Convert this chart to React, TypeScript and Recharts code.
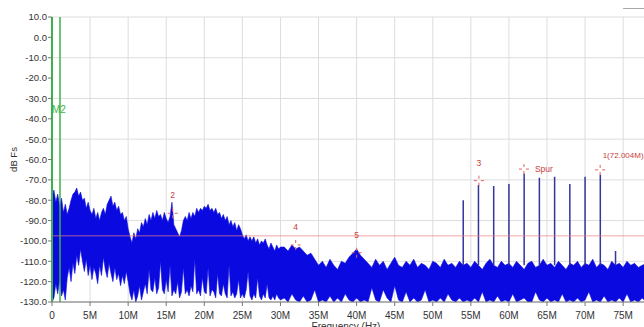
import { ComposedChart, Area, Line, XAxis, YAxis, CartesianGrid, ReferenceLine, ReferenceDot, Label } from 'recharts';

// noise floor envelope, 0 - 30 MHz every 0.25 MHz (dBFS)
const lowTop = [
  -79, -75, -81, -77, -83,
  -79, -86, -82, -87, -84, -80, -77, -76, -74, -78, -76, -80,
  -79, -84, -81, -85, -87, -84, -89, -86, -90, -86, -84, -87,
  -82, -80, -78, -83, -81, -85, -83, -87, -86, -90, -88, -94,
  -98, -101, -96, -99, -94, -96, -91, -93, -89, -92, -87, -90,
  -86, -89, -85, -88, -87, -90, -86, -89, -91, -88, -81, -92,
  -94, -96, -98, -95, -90, -88, -90, -86, -89, -86, -88, -84,
  -86, -84, -85, -83, -84, -82, -85, -84, -86, -84, -87, -86,
  -89, -87, -90, -88, -92, -90, -93, -91, -95, -92, -94, -97,
  -99, -97, -100, -98, -100, -98, -101, -99, -102, -100, -101, -99,
  -102, -104, -101, -103, -105, -102, -104, -103,
];
const lowBottom = [
  -130, -128, -121, -126, -119,
  -127, -124, -129, -118, -113, -120, -111, -116, -107, -112, -104, -110,
  -115, -109, -117, -112, -119, -113, -116, -121, -112, -117, -108, -114,
  -118, -111, -116, -120, -113, -119, -116, -122, -117, -121, -115, -120,
  -126, -129, -124, -130, -127, -122, -129, -125, -121, -126, -114, -124,
  -125, -118, -126, -123, -110, -124, -126, -119, -125, -112, -127, -124,
  -126, -120, -128, -125, -113, -126, -124, -127, -122, -125, -109, -126,
  -124, -127, -118, -125, -126, -113, -127, -124, -125, -128, -116, -126,
  -127, -121, -126, -128, -112, -127, -125, -128, -126, -119, -128, -126,
  -128, -124, -115, -127, -129, -126, -128, -118, -127, -129, -126, -128,
  -121, -128, -129, -127, -129, -126, -128, -129,
];
// noise floor envelope, 30.5 - 78 MHz every 0.5 MHz (dBFS)
const highTop = [
  -103, -105, -102, -104, -103, -105, -107, -106, -109, -112,
  -110, -113, -109, -112, -114, -110, -111, -108, -106, -104, -107, -109,
  -111, -113, -109, -112, -110, -114, -111, -108, -112, -113, -110, -112, -109,
  -113, -111, -112, -114, -110, -111, -113, -109, -112, -111, -113, -110, -112,
  -111, -113, -110, -112, -114, -111, -109, -112, -113, -110, -112, -111,
  -113, -110, -112, -114, -111, -110, -113, -112, -109, -112, -111, -113,
  -110, -112, -114, -111, -112, -110, -113, -111, -112, -109, -113, -111,
  -112, -114, -110, -112, -111, -113, -110, -112, -111, -113, -112, -111,
];
const highBottom = [
  -128, -130, -126, -129, -130, -127, -130, -129, -124, -130,
  -129, -130, -127, -130, -128, -130, -126, -129, -130, -128, -130, -129,
  -130, -123, -129, -130, -124, -128, -130, -122, -129, -130, -125, -130, -128,
  -130, -129, -124, -130, -129, -130, -128, -130, -126, -129, -130, -128, -130,
  -129, -130, -128, -130, -125, -130, -129, -130, -127, -130, -129, -130,
  -126, -130, -129, -128, -130, -130, -125, -129, -130, -128, -130, -129,
  -130, -126, -130, -129, -130, -128, -130, -129, -125, -130, -129, -130,
  -127, -130, -129, -130, -128, -130, -126, -130, -129, -130, -128, -130,
];

// spurs / harmonics (MHz, dBFS)
const spurFreqs = [54, 56, 58, 60, 62, 64, 66, 68, 70, 72, 74];
const spurPeaks = [-80, -72.5, -73, -72, -67, -69, -68.5, -72, -68.5, -67.5, -105];
const spurBase = -112;

// markers
const markerNames = ['2', '4', '5', '3', 'Spur', '1(72.004M)'];
const markerFreqs = [15.85, 32.0, 40.0, 56.06, 61.97, 71.98];
const markerDb = [-86.4, -102, -105.8, -70.4, -64.7, -65.1];

const m2Freq = 1.05;
const thresholdDb = -97.5;

const xTicks = [0, 5, 10, 15, 20, 25, 30, 35, 40, 45, 50, 55, 60, 65, 70, 75];
const yTicks = [10, 0, -10, -20, -30, -40, -50, -60, -70, -80, -90, -100, -110, -120, -130];

const noise = [
  ...lowTop.map((hi, i) => ({ f: i * 0.25, band: [lowBottom[i], hi] })),
  ...highTop.map((hi, i) => ({ f: 30.5 + i * 0.5, band: [highBottom[i], hi] })),
];

const spurs: { f: number; v: number | null }[] = [];
spurFreqs.forEach((f, i) => {
  spurs.push({ f, v: spurBase }, { f, v: spurPeaks[i] }, { f, v: null });
});

const FONT = '"Liberation Sans", Arial, sans-serif';
const RED = '#c84040';

function markerShape(name: string) {
  return (props: any) => {
    const { cx, cy } = props;
    const c = '#e06060';
    let label;
    if (name === 'Spur') {
      label = <text x={cx + 11} y={cy + 3} fill={RED} fontSize={8.5}>{name}</text>;
    } else if (name.startsWith('1(')) {
      label = <text x={cx + 2.5} y={cy - 12} fill={RED} fontSize={8}>{name}</text>;
    } else {
      label = <text x={cx} y={cy - 15} fill={RED} fontSize={8.5} textAnchor="middle">{name}</text>;
    }
    return (
      <g fontFamily={FONT}>
        <line x1={cx - 5} y1={cy} x2={cx - 2} y2={cy} stroke={c} />
        <line x1={cx + 2} y1={cy} x2={cx + 5} y2={cy} stroke={c} />
        <line x1={cx} y1={cy - 5} x2={cx} y2={cy - 2} stroke={c} />
        <line x1={cx} y1={cy + 2} x2={cx} y2={cy + 5} stroke={c} />
        {label}
      </g>
    );
  };
}

export default function App() {
  return (
    <div style={{ position: 'fixed', top: 8, left: 8, width: 636, height: 319, overflow: 'hidden', background: '#fff' }}>
      <div style={{ position: 'absolute', top: 0, left: 615, width: 30, borderTop: '1px solid #aaa' }} />
      <ComposedChart width={640} height={340} data={noise} margin={{ top: 9, right: 2, bottom: 16, left: 0 }}>
        <CartesianGrid stroke="#dddddd" />
        <XAxis
          dataKey="f"
          type="number"
          domain={[0, 78]}
          ticks={xTicks}
          allowDataOverflow
          tickFormatter={(v: number) => (v === 0 ? '0' : `${v}M`)}
          height={30}
          tickSize={4}
          tickMargin={6}
          stroke="#777"
          tick={{ fontSize: 10, fill: '#333', fontFamily: FONT }}
        >
          <Label
            content={() => (
              <text x={338} y={322} textAnchor="middle" fontSize={10} fill="#333" fontFamily={FONT}>
                Frequency (Hz)
              </text>
            )}
          />
        </XAxis>
        <YAxis
          type="number"
          domain={[-130, 10]}
          ticks={yTicks}
          allowDataOverflow
          axisLine={false}
          tickLine={{ stroke: '#777' }}
          tickFormatter={(v: number) => v.toFixed(1)}
          width={44}
          tickSize={4}
          tickMargin={1}
          tick={{ fontSize: 9.5, fill: '#333', fontFamily: FONT }}
        >
          <Label
            content={() => (
              <text x={5.5} y={151.5} transform="rotate(-90 5.5 151.5)" textAnchor="middle" dominantBaseline="central" fontSize={9.5} fill="#333" fontFamily={FONT}>
                dB Fs
              </text>
            )}
          />
        </YAxis>
        <Area
          dataKey="band"
          type="linear"
          stroke="#0a0ae0"
          strokeWidth={0.6}
          fill="#0a0ae0"
          fillOpacity={1}
          isAnimationActive={false}
          dot={false}
          activeDot={false}
        />
        <Line
          data={spurs}
          dataKey="v"
          type="linear"
          stroke="#35359c"
          strokeWidth={1.5}
          dot={false}
          activeDot={false}
          isAnimationActive={false}
        />
        <ReferenceLine y={thresholdDb} stroke="#f08080" strokeOpacity={0.7} />
        <ReferenceLine x={0} stroke="#3cb34a" strokeWidth={2} />
        <ReferenceLine
          x={m2Freq}
          stroke="#3cb34a"
          strokeWidth={1.5}
          label={
            <Label
              content={(p: any) => (
                <text x={p.viewBox.x - 1} y={104.5} textAnchor="middle" fontSize={10} fill="#3cb34a" fontFamily={FONT}>
                  M2
                </text>
              )}
            />
          }
        />
        {markerNames.map((name, i) => (
          <ReferenceDot key={name} x={markerFreqs[i]} y={markerDb[i]} r={5} shape={markerShape(name)} />
        ))}
      </ComposedChart>
    </div>
  );
}
